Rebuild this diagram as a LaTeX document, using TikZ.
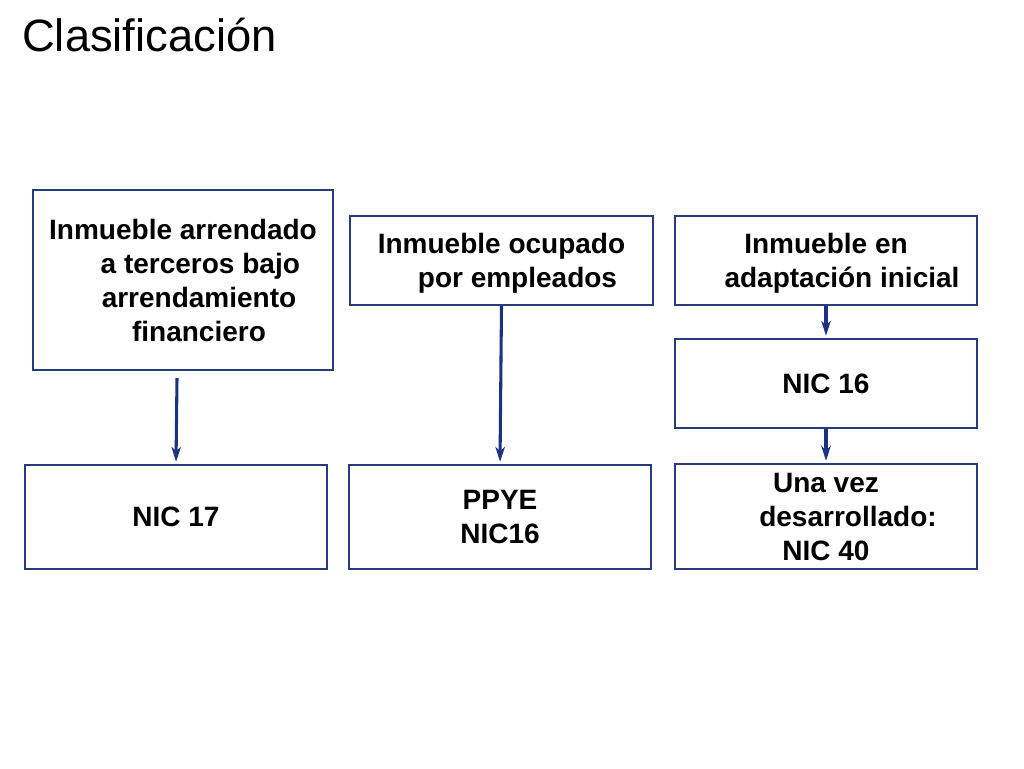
\documentclass[tikz,border=0pt]{standalone}
\usepackage{fontspec}
\setmainfont{Liberation Sans}
\usetikzlibrary{arrows.meta}
\definecolor{navy}{RGB}{28,50,128}
\definecolor{boxline}{RGB}{40,60,125}
\tikzset{
  box/.style={draw=boxline, line width=0.9pt, inner sep=0pt, align=center,
    font=\fontsize{21pt}{25.5pt}\selectfont\bfseries, text=black},
  conn/.style={draw=navy, line width=2.3pt,
    -{Stealth[length=11pt,width=7pt,inset=3pt]}, shorten >=2pt},
}
\begin{document}
\begin{tikzpicture}[x=0.75pt,y=-0.75pt]
\useasboundingbox[fill=white] (0,0) rectangle (1024,768);
\node[anchor=west, inner sep=0pt, font=\fontsize{34pt}{40pt}\selectfont] (title) at (22,35) {Clasificación};

\node[box, minimum width=225pt, minimum height=135pt] (b1) at (183,280)
  {Inmueble arrendado\\ \hspace*{26pt}a terceros bajo\\ \hspace*{24pt}arrendamiento\\ \hspace*{24pt}financiero};
\node[box, minimum width=227.25pt, minimum height=66.75pt, text depth=-2pt] (b2) at (501.5,260.5)
  {Inmueble ocupado\\ \hspace*{24pt}por empleados};
\node[box, minimum width=226.5pt, minimum height=66.75pt, text depth=-2pt] (b3) at (826,260.5)
  {Inmueble en\\ \hspace*{24pt}adaptación inicial};
\node[box, minimum width=226.5pt, minimum height=66.75pt] (b4) at (826,383.5)
  {NIC 16};
\node[box, minimum width=226.5pt, minimum height=78pt] (b5) at (176,517)
  {NIC 17};
\node[box, minimum width=226.5pt, minimum height=78pt, text depth=-3pt] (b6) at (500,517)
  {PPYE\\NIC16};
\node[box, minimum width=226.5pt, minimum height=78.75pt, text depth=-4pt] (b7) at (826,516.5)
  {Una vez\\ \hspace*{33pt}desarrollado:\\NIC 40};

\coordinate (a1s) at (177,378);
\draw[conn] (a1s) -- (b5.north);
\draw[conn] (b2.south) -- (b6.north);
\draw[conn] (b3.south) -- (b4.north);
\draw[conn] (b4.south) -- (b7.north);
\end{tikzpicture}
\end{document}
